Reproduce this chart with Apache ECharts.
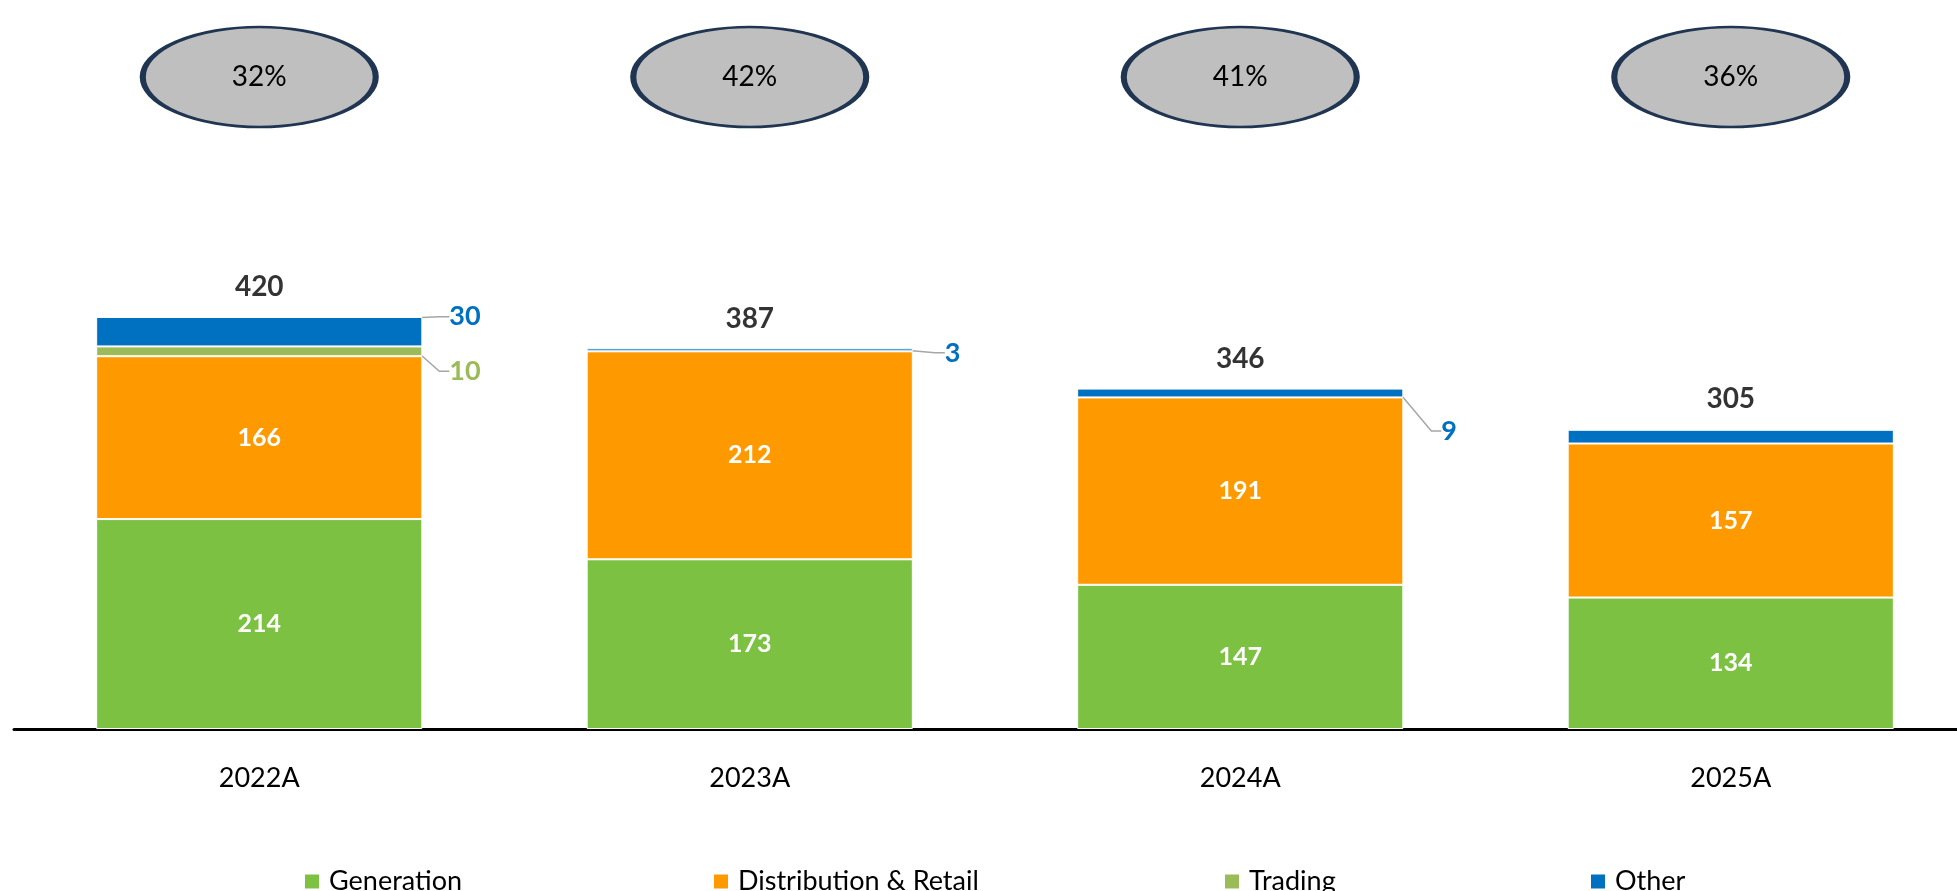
<!DOCTYPE html>
<html>
<head>
<meta charset="utf-8">
<script src="https://cdn.jsdelivr.net/npm/echarts@6/dist/echarts.min.js"></script>
<style>
html,body{margin:0;padding:0;background:#fff;overflow:hidden;width:1957px;height:891px;}
#chart{width:1976px;height:891px;}
</style>
</head>
<body>
<div id="chart"></div>
<script>
// ---- data ----
const categories = ['2022A', '2023A', '2024A', '2025A'];
const generation = [214, 173, 147, 134];
const distribution = [166, 212, 191, 157];
const trading = [10, null, null, null];
const other = [30, 3, 9, 14];
const totals = [420, 387, 346, 305];
const margins = ['32%', '42%', '41%', '36%'];
const otherLabelShown = [true, true, true, false];
const tradingLabelShown = [true, false, false, false];

const FONT = 'Lato';
const C_GEN = '#7DC142', C_DIST = '#FF9900', C_TRADE = '#9BBB59', C_OTHER = '#0070C0';

// side-label placement (offsets from the bar segment's right edge / centre)
const sideOffsets = {
  Trading: {0: [20, 20]},
  Other: {0: [20, -15], 1: [25, 3], 2: [31, 38]}
};

function sideLayout(seriesName) {
  return function (p) {
    const o = sideOffsets[seriesName][p.dataIndex];
    if (!o) return {};
    return {
      x: p.rect.x + p.rect.width + o[0],
      y: p.rect.y + p.rect.height / 2 + o[1]
    };
  };
}

function sideData(values, shown) {
  return values.map((v, i) => ({
    value: v,
    label: {show: !!shown[i]},
    labelLine: {show: !!shown[i]}
  }));
}

const chart = echarts.init(document.getElementById('chart'), null, {renderer: 'canvas'});

const barBase = {
  type: 'bar', stack: 'total', barWidth: '66.5%',
  xAxisIndex: 0, yAxisIndex: 0
};

function legendFor(name, left) {
  return {
    data: [name], left: left, top: 868, icon: 'rect', padding: 0,
    itemWidth: 16, itemHeight: 16, itemGap: 10, selectedMode: false,
    textStyle: {fontFamily: FONT, fontSize: 27, color: '#000', padding: [0, 0, 0, 4]}
  };
}

const sideLabel = (color) => ({
  position: 'right', align: 'left', verticalAlign: 'middle',
  color: color, fontFamily: FONT, fontWeight: 'bold', fontSize: 27, padding: [0, 0, 0, 7]
});

const option = {
  animation: false,
  backgroundColor: '#ffffff',
  textStyle: {fontFamily: FONT},
  legend: [
    legendFor('Generation', 303),
    legendFor('Distribution & Retail', 712),
    legendFor('Trading', 1223),
    legendFor('Other', 1589)
  ],
  grid: [
    {left: 14, right: 0, bottom: 162, top: 729 - 500 * 0.981},
    {left: 14, right: 0, top: 17, height: 120}
  ],
  xAxis: [
    {
      type: 'category', data: categories, gridIndex: 0,
      axisLine: {lineStyle: {color: '#000', width: 3}},
      axisTick: {show: false},
      axisLabel: {fontFamily: FONT, fontSize: 27, color: '#000', margin: 36}
    },
    {type: 'category', data: categories, gridIndex: 1, show: false}
  ],
  yAxis: [
    {type: 'value', min: 0, max: 500, gridIndex: 0, show: false, splitLine: {show: false}},
    {type: 'value', min: 0, max: 1, gridIndex: 1, show: false, splitLine: {show: false}}
  ],
  series: [
    Object.assign({}, barBase, {
      name: 'Generation', data: generation,
      itemStyle: {color: C_GEN, borderColor: '#fff', borderWidth: 1},
      label: {show: true, position: 'inside', color: '#fff', fontFamily: FONT, fontWeight: 'bold', fontSize: 25}
    }),
    Object.assign({}, barBase, {
      name: 'Distribution & Retail', data: distribution,
      itemStyle: {color: C_DIST, borderColor: '#fff', borderWidth: 1},
      label: {show: true, position: 'inside', color: '#fff', fontFamily: FONT, fontWeight: 'bold', fontSize: 25}
    }),
    Object.assign({}, barBase, {
      name: 'Trading', data: sideData(trading, tradingLabelShown),
      itemStyle: {color: C_TRADE, borderColor: '#fff', borderWidth: 1},
      label: sideLabel(C_TRADE),
      labelLine: {lineStyle: {color: '#A6A6A6', width: 1.5}, length2: 10, minTurnAngle: 0},
      labelLayout: sideLayout('Trading')
    }),
    Object.assign({}, barBase, {
      name: 'Other', data: sideData(other, otherLabelShown),
      itemStyle: {color: C_OTHER, borderColor: '#fff', borderWidth: 1},
      label: sideLabel(C_OTHER),
      labelLine: {lineStyle: {color: '#A6A6A6', width: 1.5}, length2: 10, minTurnAngle: 0},
      labelLayout: sideLayout('Other')
    }),
    {
      name: 'Total', type: 'scatter', xAxisIndex: 0, yAxisIndex: 0,
      data: totals, symbolSize: 1, silent: true,
      itemStyle: {color: 'rgba(0,0,0,0)'},
      label: {show: true, position: 'top', distance: 16, color: '#000', fontFamily: FONT, fontWeight: 'bold', fontSize: 28}
    },
    {
      name: 'Margin', type: 'scatter', xAxisIndex: 1, yAxisIndex: 1,
      data: margins.map((m, i) => [i, 0.5]),
      symbol: 'circle', symbolSize: [233, 100], silent: true,
      itemStyle: {color: '#BFBFBF', borderColor: '#1F3552', borderWidth: 4, opacity: 1},
      label: {
        show: true, position: 'inside', color: '#000', fontFamily: FONT, fontSize: 28,
        formatter: (p) => margins[p.dataIndex]
      }
    }
  ]
};

chart.setOption(option);
</script>
</body>
</html>
